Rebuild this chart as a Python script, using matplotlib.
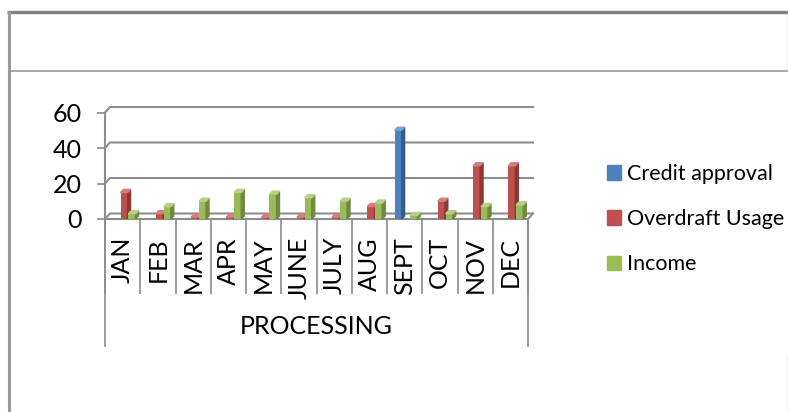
import matplotlib
matplotlib.use('Agg')
import matplotlib.pyplot as plt
from matplotlib.lines import Line2D
from matplotlib.patches import Patch, Polygon

# monthly figures per series
months = ['JAN', 'FEB', 'MAR', 'APR', 'MAY', 'JUNE', 'JULY', 'AUG', 'SEPT', 'OCT', 'NOV', 'DEC']
credit_approval = [0, 0, 0, 0, 0, 0, 0, 0, 50, 0, 0, 0]
overdraft_usage = [15, 3, 1, 1, 1, 1, 1, 7, 0, 10, 30, 30]
income = [3, 7, 10, 15, 14, 12, 10, 9, 2, 3, 7, 8]
series_names = ['Credit approval', 'Overdraft Usage', 'Income']
y_ticks = [0, 20, 40, 60]

W, H = 788, 412

def fx(px):
    return px / W

def fy(py):
    return 1 - py / H

plt.rcParams['font.family'] = ['Lato', 'DejaVu Sans']

fig = plt.figure(figsize=(W / 100, H / 100), dpi=100)
fig.patch.set_facecolor('white')

# table borders around the chart
def border(x0, y0, x1, y1, color, lw):
    fig.add_artist(Line2D([fx(x0), fx(x1)], [fy(y0), fy(y1)], transform=fig.transFigure,
                          color=color, lw=lw, solid_capstyle='butt'))

border(7, 12, 788, 12, '#808080', 2.4)
border(8.5, 11, 8.5, 412, '#9a9a9a', 2.2)
border(10, 71, 788, 71, '#909090', 1.1)
border(787.5, 11, 787.5, 71, '#a8a8a8', 1.0)
border(787.5, 355, 787.5, 412, '#a8a8a8', 1.0)

ax = fig.add_axes([fx(105), fy(219), fx(528) - fx(105), (219 - 112.5) / H])
ax.set_xlim(0, 12)
ax.set_ylim(0, 60)
ax.patch.set_alpha(0)

grid_color = '#8c8c8c'
back_dx, back_dy = 0.14, 3.1   # depth of the back wall, data units

# back wall gridlines with their slanted joins to the front axis
for v in y_ticks:
    ax.plot([0, back_dx, 12 + back_dx], [v, v + back_dy, v + back_dy],
            color=grid_color, lw=1.5, clip_on=False, zorder=1)
ax.plot([12, 12 + back_dx], [0, back_dy], color=grid_color, lw=1.5, clip_on=False, zorder=1)

for side in ['top', 'right']:
    ax.spines[side].set_visible(False)
for side in ['left', 'bottom']:
    ax.spines[side].set_color(grid_color)
    ax.spines[side].set_linewidth(1.5)

ax.set_yticks(y_ticks)
ax.tick_params(axis='y', length=5.8, width=1.2, color=grid_color, pad=11, labelsize=18)

# category cells: dividers as long major ticks, names on minor ticks
ax.set_xticks(range(13))
ax.set_xticklabels([])
ax.set_xticks([i + 0.5 for i in range(12)], minor=True)
ax.set_xticklabels(months, minor=True, rotation=90)
ax.tick_params(axis='x', which='major', length=54, width=1.2, color=grid_color, direction='out')
ax.tick_params(axis='x', which='minor', length=0, pad=13, labelsize=18)

xt = ax.get_xaxis_transform()
for x in [0, 12]:
    ax.plot([x, x], [0, -(346 - 219) / 106.5], transform=xt, color=grid_color, lw=1.2, clip_on=False)
ax.text(6, -(327 - 219) / 106.5, 'PROCESSING', transform=xt, ha='center', va='center', fontsize=18)

# 3D-looking columns
bar_w = 0.2
depth_x, depth_y = 0.085, 1.7
offsets = [0.215, 0.44, 0.665]
colors = [('#4F81BD', '#385D8A', '#7BA0CD'),
          ('#C0504D', '#8C3836', '#D37E7C'),
          ('#9BBB59', '#71893F', '#B7CF87')]

for k, vals in enumerate([credit_approval, overdraft_usage, income]):
    front, dark, light = colors[k]
    z = 3 + k
    lefts = [i + offsets[k] for i in range(len(months))]
    ax.bar(lefts, vals, width=bar_w, align='edge', color=front, zorder=z, clip_on=False)
    for x0, v in zip(lefts, vals):
        if v <= 0:
            continue
        x1 = x0 + bar_w
        ax.add_patch(Polygon([(x1, 0), (x1 + depth_x, depth_y), (x1 + depth_x, v + depth_y), (x1, v)],
                             closed=True, color=dark, zorder=z, clip_on=False))
        ax.add_patch(Polygon([(x0, v), (x0 + depth_x, v + depth_y), (x1 + depth_x, v + depth_y), (x1, v)],
                             closed=True, color=light, zorder=z, clip_on=False))

handles = [Patch(color=c[0]) for c in colors]
fig.legend(handles, series_names, loc='upper left', bbox_to_anchor=(fx(607), fy(164)),
           frameon=False, fontsize=15.5, handlelength=0.65, handleheight=0.65,
           handletextpad=0.3, labelspacing=1.17, borderaxespad=0, borderpad=0)

fig.savefig('out.png', dpi=100)
